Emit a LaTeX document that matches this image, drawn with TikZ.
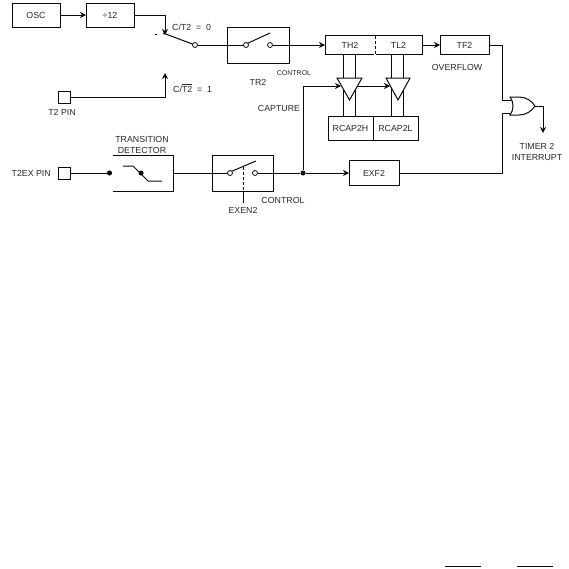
\documentclass[tikz,border=0pt]{standalone}
\usepackage{fontspec}
\setmainfont{Liberation Sans}
\usetikzlibrary{arrows.meta, positioning, calc}
\definecolor{wirecolor}{RGB}{10,10,10}
\definecolor{labelgray}{RGB}{40,40,40}
\tikzset{
  block/.style={rectangle, draw=wirecolor, fill=white, line width=1pt, outer sep=0pt,
    inner sep=0pt, text centered, font=\fontsize{8.8}{11}\selectfont, text=labelgray},
  pinbox/.style={block, minimum width=12pt, minimum height=12pt},
  contact/.style={circle, draw=wirecolor, fill=white, line width=0.8pt, minimum size=5pt,
    inner sep=0pt, outer sep=0pt},
  lab/.style={inner sep=0pt, align=center, font=\fontsize{8.8}{11}\selectfont, text=labelgray},
  smalllab/.style={lab, font=\fontsize{7}{8}\selectfont},
  wire/.style={line width=1pt, draw=wirecolor},
  arrow/.style={wire, -{Stealth[length=6pt, width=6pt]}},
  dotarrow/.style={wire, -{Circle[length=5pt]}},
}
\begin{document}
\begin{tikzpicture}[x=1pt, y=-1pt]
  \useasboundingbox (0,0) rectangle (569,568);

  %% ── clock path ──────────────────────────────────────────
  \node[block, minimum width=48pt, minimum height=24pt] (osc) at (36,15) {OSC};
  \node[block, minimum width=48pt, minimum height=24pt, right=26pt of osc] (div) {÷12};
  \coordinate (swtop) at (165,35);
  \coordinate (swlow) at (165,73);
  \draw[arrow] (osc) -- (div);
  \draw[arrow] (div.east) -| (swtop);
  \node[lab, anchor=west] (c0) at (172,27) {C/T2\ \ =\ \ 0};

  \node[pinbox] (t2pin) at (64,97) {};
  \node[lab, below=6pt of t2pin, xshift=-2pt] (t2lab) {T2 PIN};
  \draw[arrow] (t2pin.east) -| (swlow);
  \node[lab, anchor=west] (c1) at (173,88) {C/$\overline{\mbox{T2}}$\ \ =\ \ 1};

  % selector
  \node[contact] (swout) at (195,45) {};
  \coordinate (swtick) at (155,34);
  \coordinate (swpivot) at (163,33);
  \draw[wire] (swtick) -- ++(1.5,0);
  \draw[wire] (swpivot) -- (swout);

  %% ── TR2 switch ──────────────────────────────────────────
  \node[block, minimum width=62pt, minimum height=36pt] (tr2) at (258,45) {};
  \node[contact] (tr2a) at (246,45) {};
  \node[contact] (tr2b) at (270,45) {};
  \coordinate (tr2arm) at (270,33);
  \draw[wire] (swout) -- (tr2a);
  \draw[wire] (tr2a.north east) -- (tr2arm);
  \node[lab, anchor=center] (tr2lab) at (258,82) {TR2};
  \node[smalllab] (tr2ctl) at (294,73) {CONTROL};

  %% ── timer registers ─────────────────────────────────────
  \node[block, minimum width=50pt, minimum height=19pt] (th2) at (350,45) {TH2};
  \node[block, minimum width=47pt, minimum height=19pt, right=0pt of th2] (tl2) {TL2};
  \draw[draw=white, line width=1.2pt] (th2.north east) -- (th2.south east);
  \draw[wire, dashed, dash pattern=on 3pt off 2pt] (th2.north east) -- (th2.south east);
  \node[block, minimum width=49pt, minimum height=19pt] (tf2) at (464.5,45) {TF2};
  \draw[arrow] (tr2b) -- (th2.west);
  \draw[arrow] (tl2) -- (tf2);
  \node[lab] (ovf) at (457,67) {OVERFLOW};

  %% ── capture registers ───────────────────────────────────
  \node[block, minimum width=45pt, minimum height=24pt] (rcaph) at (350.5,128) {RCAP2H};
  \node[block, minimum width=45pt, minimum height=24pt, right=0pt of rcaph] (rcapl) {RCAP2L};
  \foreach \x in {343,355} {
    \draw[wire] (\x,54) -- (\x,116);
  }
  \foreach \x in {391,403} {
    \draw[wire] (\x,54) -- (\x,116);
  }
  \draw[wire, fill=white] (337,78) -- (362,78) -- (349.5,100) -- cycle;
  \draw[wire, fill=white] (386,78) -- (410,78) -- (398,100) -- cycle;
  \coordinate (capa) at (341,86);
  \coordinate (capb) at (358,86);
  \coordinate (capc) at (390,86);
  \draw[arrow] (capb) -- (capc);
  \node[lab] (caplab) at (279,108) {CAPTURE};

  %% ── external trigger ────────────────────────────────────
  \node[pinbox] (t2ex) at (64,173) {};
  \node[lab, left=7pt of t2ex] (t2exlab) {T2EX PIN};
  \coordinate (trin) at (112,173);
  \draw[dotarrow] (t2ex.east) -- (trin);
  \coordinate (trnw) at (113,155);
  \coordinate (trne) at (173,155);
  \coordinate (trse) at (173,191);
  \coordinate (trsw) at (113,191);
  \draw[wire] (trnw) -- (trne) -- (trse) -- (trsw);
  \node[lab, above=1pt of $(trnw)!0.5!(trne)$, xshift=-1pt] (trlab) {TRANSITION\\DETECTOR};
  \draw[wire] (123,166) -- (133,166) -- (148,181) -- (162,181);
  \node[circle, fill=wirecolor, minimum size=5pt, inner sep=0pt] (trdot) at (141,173) {};

  \node[block, minimum width=61pt, minimum height=36pt] (exen) at (242.5,173) {};
  \node[contact] (exa) at (230,173) {};
  \node[contact] (exb) at (255,173) {};
  \coordinate (exarm) at (256,161);
  \draw[wire] (trne |- trin) -- (exa);
  \draw[wire] (exa.north east) -- (exarm);
  \node[lab] (exenlab) at (243,210) {EXEN2};
  \coordinate (exup) at (243,167);
  \draw[wire, dashed, dash pattern=on 3pt off 2pt] (exup) -- (243,191);
  \draw[wire] (243,191) -- (243,203);
  \node[lab] (exctl) at (283,200) {CONTROL};

  \node[circle, fill=wirecolor, minimum size=5pt, inner sep=0pt] (junc) at (303,173) {};
  \node[block, minimum width=50pt, minimum height=25pt] (exf2) at (374,173) {EXF2};
  \draw[wire] (exb) -- (junc);
  \draw[arrow] (junc) -- (exf2);
  \draw[arrow] (junc) |- (capa);

  %% ── interrupt gate ──────────────────────────────────────
  \coordinate (orin1) at (511,100);
  \coordinate (orin2) at (511,113);
  \coordinate (orout) at (535,106);
  \draw[wire, fill=white] (510,97) -- (519,97) .. controls (526,97) and (532,101) .. (orout)
    .. controls (532,111) and (526,115) .. (519,115) -- (510,115)
    .. controls (514,110) and (514,102) .. (510,97) -- cycle;
  \draw[wire] (tf2.east) -- (502,45) -- (502,100) -- (orin1);
  \draw[wire] (exf2.east) -- (502,173) -- (502,113) -- (orin2);
  \coordinate (irq) at (543,133);
  \draw[arrow] (orout) -| (irq);
  \node[lab] (irqlab) at (537,151.5) {TIMER 2\\INTERRUPT};

  % rules at the foot of the page
  \coordinate (rulea) at (445,566);
  \coordinate (ruleb) at (517,566);
  \draw[wire] (rulea) -- ++(36,0);
  \draw[wire] (ruleb) -- ++(36,0);
\end{tikzpicture}
\end{document}
